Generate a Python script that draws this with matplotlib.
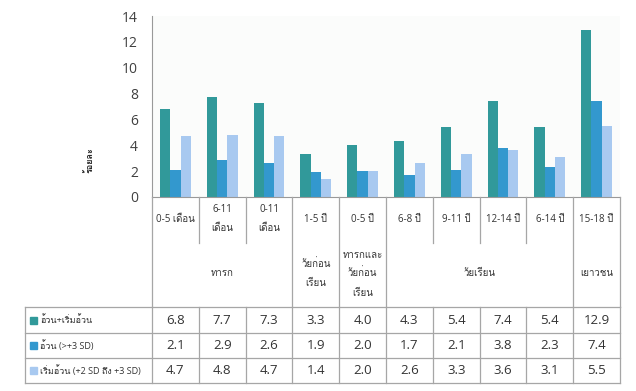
import matplotlib
matplotlib.use('Agg')
from matplotlib import pyplot as plt
from matplotlib import font_manager
import numpy as np

# find a font that has Thai glyphs
thai_family = None
try:
    from fontTools.ttLib import TTFont
    for f in font_manager.fontManager.ttflist:
        try:
            cmap = TTFont(f.fname, fontNumber=0, lazy=True).getBestCmap()
        except Exception:
            continue
        if cmap and 0x0E2D in cmap and 0x0E49 in cmap:
            thai_family = f.name
            break
except Exception:
    pass

families = ['Open Sans', 'DejaVu Sans']
if thai_family:
    families = ['Open Sans', thai_family, 'DejaVu Sans']
plt.rcParams['font.family'] = families

# *************************** DATA ***************************
categories = ['0-5 เดือน', '6-11\nเดือน', '0-11\nเดือน', '1-5 ปี', '0-5 ปี',
              '6-8 ปี', '9-11 ปี', '12-14 ปี', '6-14 ปี', '15-18 ปี']
groups = ['ทารก', 'วัยก่อน\nเรียน', 'ทารกและ\nวัยก่อน\nเรียน', 'วัยเรียน', 'เยาวชน']
group_spans = [(0, 3), (3, 4), (4, 5), (5, 9), (9, 10)]
series_names = ['อ้วน+เริ่มอ้วน', 'อ้วน (>+3 SD)', 'เริ่มอ้วน (+2 SD ถึง +3 SD)']
obese_overweight = [6.8, 7.7, 7.3, 3.3, 4.0, 4.3, 5.4, 7.4, 5.4, 12.9]
obese = [2.1, 2.9, 2.6, 1.9, 2.0, 1.7, 2.1, 3.8, 2.3, 7.4]
overweight = [4.7, 4.8, 4.7, 1.4, 2.0, 2.6, 3.3, 3.6, 3.1, 5.5]
colors = ['#31999A', '#3398CE', '#A8C9F0']
ylabel = 'ร้อยละ'

series = [obese_overweight, obese, overweight]

W, H = 636, 391
fig = plt.figure(figsize=(W / 100, H / 100), dpi=100)
fig.patch.set_facecolor('white')

# pixel helpers
def fx(px):
    return px / W

def fy(py):
    return 1 - py / H

x0, x1 = 152, 620
y_top, y_bot = 16, 197
ax = fig.add_axes([fx(x0), fy(y_bot), fx(x1) - fx(x0), fy(y_top) - fy(y_bot)])
ax.set_facecolor('#FBFCFB')

n = len(categories)
x = np.arange(n)
bw = 0.22
for i, (vals, c) in enumerate(zip(series, colors)):
    ax.bar(x + (i - 1) * bw, vals, bw, color=c, label=series_names[i])

ax.set_xlim(-0.5, n - 0.5)
ax.set_ylim(0, 14)
ax.set_yticks(range(0, 15, 2))
ax.tick_params(axis='y', length=0, labelsize=10, labelcolor='#404040', pad=10)
ax.set_xticks([])
for s in ['top', 'right']:
    ax.spines[s].set_visible(False)
ax.spines['left'].set_color('#999999')
ax.spines['bottom'].set_color('#999999')

fig.text(fx(90), fy(160), ylabel, rotation=90, ha='center', va='center',
         fontsize=6.5, fontweight='bold', color='#222222')

# *************************** TABLE BELOW ***************************
line_c = '#A6A6A6'
cw = (x1 - x0) / n

def vline(px, ya, yb):
    fig.add_artist(plt.Line2D([fx(px), fx(px)], [fy(ya), fy(yb)], color=line_c, lw=0.9))

def hline(xa, xb, py):
    fig.add_artist(plt.Line2D([fx(xa), fx(xb)], [fy(py), fy(py)], color=line_c, lw=0.9))

# header area separators
bounds = [s for s, e in group_spans] + [n]
for k in range(n + 1):
    px = x0 + k * cw
    if k in bounds:
        vline(px, y_bot, 307)
    else:
        vline(px, y_bot, 243)

for k, lab in enumerate(categories):
    fig.text(fx(x0 + (k + 0.5) * cw), fy(219), lab, ha='center', va='center',
             fontsize=7, color='#333333', linespacing=2.0)

for (s, e), lab in zip(group_spans, groups):
    fig.text(fx(x0 + (s + e) / 2 * cw), fy(274), lab, ha='center', va='center',
             fontsize=7, color='#333333', linespacing=2.0)

# data rows
rows_y = [307, 333, 358, 383]
for py in rows_y:
    hline(25, x1, py)
vline(25, 307, 383)
for k in range(n + 1):
    vline(x0 + k * cw, 307, 383)

for r, (vals, c, name) in enumerate(zip(series, colors, series_names)):
    yc = (rows_y[r] + rows_y[r + 1]) / 2
    fig.add_artist(plt.Rectangle((fx(30), fy(yc + 3.5)), fx(7), 7 / H, color=c))
    fig.text(fx(40), fy(yc), name, ha='left', va='center', fontsize=6.5, color='#333333')
    for k, v in enumerate(vals):
        fig.text(fx(x0 + (k + 0.5) * cw), fy(yc), f'{v:.1f}', ha='center', va='center',
                 fontsize=9.5, color='#333333')

fig.savefig('out.png', dpi=100)
